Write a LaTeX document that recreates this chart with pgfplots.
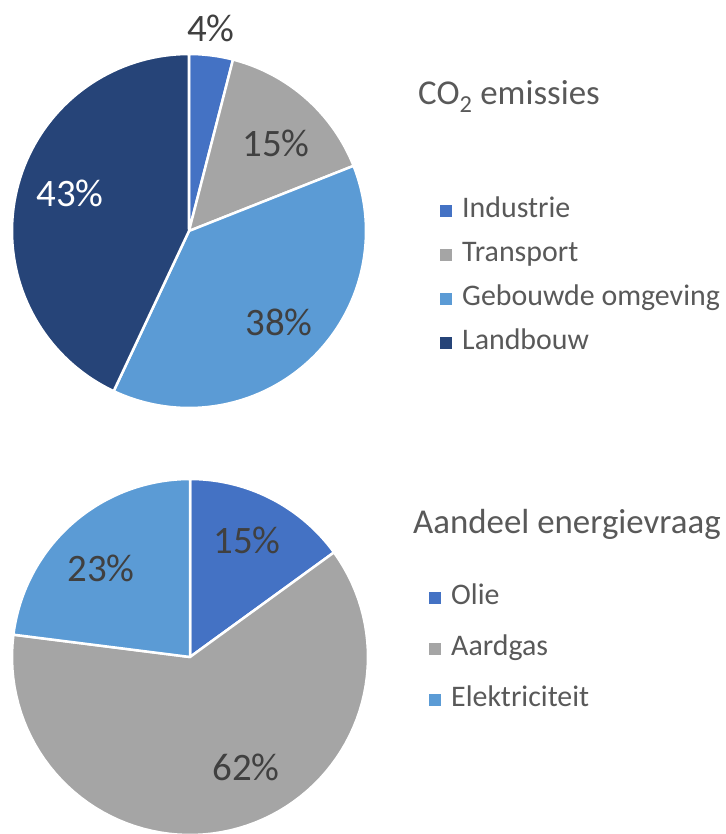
\documentclass[border=0pt]{standalone}
\usepackage{pgfplots}
\pgfplotsset{compat=1.18}
\usepackage{fontspec}
\setmainfont{Carlito}
\definecolor{cA}{HTML}{4472C4}
\definecolor{cB}{HTML}{A5A5A5}
\definecolor{cC}{HTML}{5B9BD5}
\definecolor{cD}{HTML}{264478}
\definecolor{lab}{HTML}{404040}
\definecolor{leg}{HTML}{595959}
\pgfplotsset{
  pieaxis/.style={
    x=1bp, y=1bp, xmin=0, xmax=726, ymin=0, ymax=834,
    hide axis, clip=false, samples=80,
    legend cell align=left,
    legend image code/.code={\fill[##1, draw=none] (0bp,-6bp) rectangle (12bp,6bp);},
  },
  slice/.style={fill=#1, draw=white, line width=2.5bp, line join=round},
}
\begin{document}
\begin{tikzpicture}
\useasboundingbox (0,0) rectangle (726bp,834bp);
% ---------- CO2 emissies (centre 189,603; r=177) ----------
\begin{axis}[pieaxis,
  legend style={at={(axis cs:440,637)}, anchor=north west, draw=none, fill=none,
    inner sep=0pt, row sep=17bp, font=\fontsize{30}{30}\selectfont\color{leg},
    nodes={inner sep=0pt, text height=20bp, text depth=7bp},
    /tikz/every odd column/.append style={column sep=10bp}}]
\addplot[slice=cA, domain={0*3.6}:{4*3.6}]   ({189+177*sin(x)},{603+177*cos(x)}) -- (axis cs:189,603) -- cycle;
\addlegendentry{Industrie}
\addplot[slice=cB, domain={4*3.6}:{19*3.6}]  ({189+177*sin(x)},{603+177*cos(x)}) -- (axis cs:189,603) -- cycle;
\addlegendentry{Transport}
\addplot[slice=cC, domain={19*3.6}:{57*3.6}] ({189+177*sin(x)},{603+177*cos(x)}) -- (axis cs:189,603) -- cycle;
\addlegendentry{Gebouwde omgeving}
\addplot[slice=cD, domain={57*3.6}:{100*3.6}] ({189+177*sin(x)},{603+177*cos(x)}) -- (axis cs:189,603) -- cycle;
\addlegendentry{Landbouw}
\begin{scope}[every node/.style={font=\fontsize{39}{39}\selectfont, text=lab}]
\node at (axis cs:211,806) {4\%};
\node at (axis cs:276,691) {15\%};
\node at (axis cs:279,512) {38\%};
\node[text=white] at (axis cs:70,641) {43\%};
\end{scope}
\node[anchor=base west, inner sep=0pt, text=leg, font=\fontsize{35}{35}\selectfont]
  at (axis cs:418,729) {CO\textsubscript{2} emissies};
\end{axis}
% ---------- Aandeel energievraag (centre 190,177; r=178) ----------
\begin{axis}[pieaxis,
  legend style={at={(axis cs:429,250)}, anchor=north west, draw=none, fill=none,
    inner sep=0pt, row sep=24bp, font=\fontsize{30}{30}\selectfont\color{leg},
    nodes={inner sep=0pt, text height=20bp, text depth=7bp},
    /tikz/every odd column/.append style={column sep=10bp}}]
\addplot[slice=cA, domain={0*3.6}:{15*3.6}]   ({190+178*sin(x)},{177+178*cos(x)}) -- (axis cs:190,177) -- cycle;
\addlegendentry{Olie}
\addplot[slice=cB, domain={15*3.6}:{77*3.6}]  ({190+178*sin(x)},{177+178*cos(x)}) -- (axis cs:190,177) -- cycle;
\addlegendentry{Aardgas}
\addplot[slice=cC, domain={77*3.6}:{100*3.6}] ({190+178*sin(x)},{177+178*cos(x)}) -- (axis cs:190,177) -- cycle;
\addlegendentry{Elektriciteit}
\begin{scope}[every node/.style={font=\fontsize{39}{39}\selectfont, text=lab}]
\node at (axis cs:247,294) {15\%};
\node at (axis cs:246,67) {62\%};
\node at (axis cs:101,266) {23\%};
\end{scope}
\node[anchor=base west, inner sep=0pt, text=leg, font=\fontsize{35}{35}\selectfont]
  at (axis cs:413,301) {Aandeel energievraag};
\end{axis}
\end{tikzpicture}
\end{document}
